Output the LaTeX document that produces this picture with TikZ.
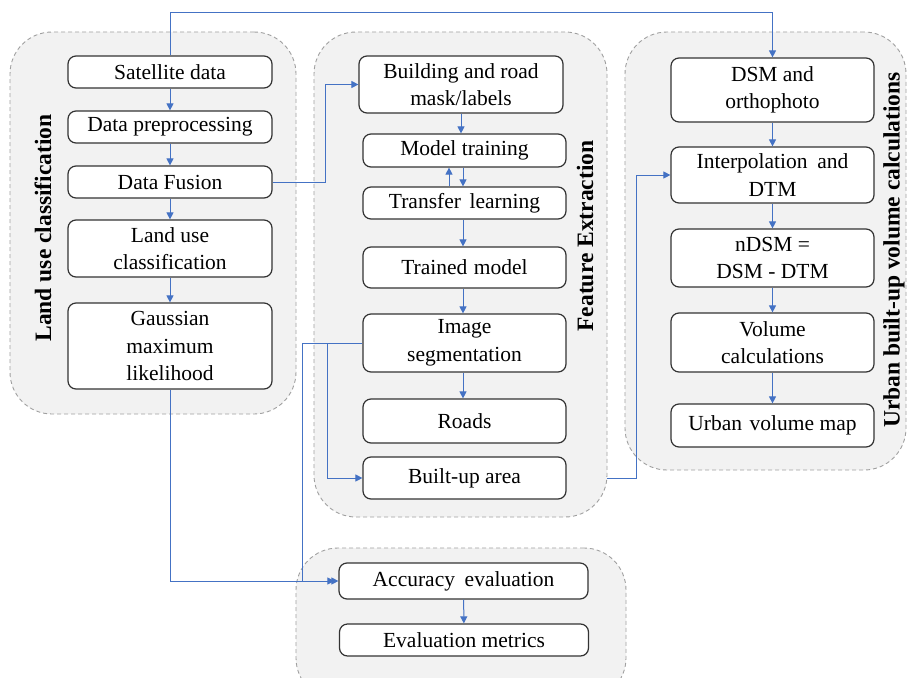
\documentclass[tikz,border=0pt]{standalone}
\usepackage{fontspec}
\setmainfont{Liberation Serif}
\usetikzlibrary{arrows.meta,calc}
\definecolor{flow}{HTML}{4472C4}
\definecolor{boxline}{HTML}{333333}
\definecolor{grpfill}{HTML}{F2F2F2}
\definecolor{grpline}{HTML}{A0A0A0}
\tikzset{
  grp/.style={draw=grpline, fill=grpfill, dash pattern=on 4pt off 3pt, line width=0.9pt,
    rounded corners=42pt, inner sep=0pt},
  stepbox/.style={draw=boxline, fill=white, line width=1.2pt, rounded corners=8pt,
    inner sep=0pt, align=center, font=\fontsize{21.5}{27.5}\selectfont},
  grptitle/.style={rotate=90, font=\bfseries\fontsize{23.5}{28}\selectfont, inner sep=0pt},
  conn/.style={draw=flow, line width=1pt, -{Triangle[length=7pt,width=7pt]}},
}
\begin{document}
\begin{tikzpicture}[x=1pt,y=-1pt]
\useasboundingbox (0,0) rectangle (907,677);
\clip (0,0) rectangle (907,677);

% group panels
\node[grp, minimum width=286pt, minimum height=382pt] (g1) at (153,223) {};
\node[grp, minimum width=293pt, minimum height=485pt] (g2) at (460.5,274.5) {};
\node[grp, minimum width=281pt, minimum height=438pt] (g3) at (765.5,251) {};
\node[grp, minimum width=330pt, minimum height=152pt] (g4) at (461,624) {};

% group titles
\node[grptitle] (t1) at (43,228) {Land use classification};
\node[grptitle] (t2) at (585,236) {Feature Extraction};
\node[grptitle] (t3) at (894,250) {Urban built-up volume calculations};

% land use classification
\node[stepbox, minimum width=204pt, minimum height=32pt] (sat) at (170,72) {Satellite data};
\node[stepbox, minimum width=204pt, minimum height=32pt] (pre) at (170,127) {Data preprocessing};
\node[stepbox, minimum width=204pt, minimum height=32pt] (fus) at (170,182) {Data Fusion};
\node[stepbox, minimum width=204pt, minimum height=57pt] (luc) at (170,248.5) {Land use\\classification};
\node[stepbox, minimum width=204pt, minimum height=86pt] (gau) at (170,346) {Gaussian\\maximum\\likelihood};

% feature extraction
\node[stepbox, minimum width=204pt, minimum height=57pt] (bld) at (461,84.5) {Building and road\\mask/labels};
\node[stepbox, minimum width=203pt, minimum height=33pt] (mt) at (464.5,150.5) {Model training};
\node[stepbox, minimum width=203pt, minimum height=32pt] (tl) at (464.5,203) {Transfer\hspace{0.4em}learning};
\node[stepbox, minimum width=203pt, minimum height=41pt] (tm) at (464.5,267.5) {Trained\hspace{0.3em}model};
\node[stepbox, minimum width=203pt, minimum height=58pt] (seg) at (464.5,343) {Image\\segmentation};
\node[stepbox, minimum width=203pt, minimum height=44pt] (rd) at (464.5,421) {Roads};
\node[stepbox, minimum width=203pt, minimum height=42pt] (bu) at (464.5,478) {Built-up area};

% urban volume
\node[stepbox, minimum width=203pt, minimum height=64pt] (dsm) at (772.5,90) {DSM and\\orthophoto};
\node[stepbox, minimum width=203pt, minimum height=56pt] (itp) at (772.5,175) {Interpolation\hspace{0.45em}and\\DTM};
\node[stepbox, minimum width=203pt, minimum height=58pt] (nd) at (772.5,258) {nDSM =\\DSM - DTM};
\node[stepbox, minimum width=203pt, minimum height=59pt] (vol) at (772.5,342.5) {Volume\\calculations};
\node[stepbox, minimum width=203pt, minimum height=43pt] (uvm) at (772.5,425.5) {Urban\hspace{0.35em}volume map};

% evaluation
\node[stepbox, minimum width=249pt, minimum height=36pt] (acc) at (463.5,581) {Accuracy\hspace{0.45em}evaluation};
\node[stepbox, minimum width=249pt, minimum height=32pt] (em) at (464,640) {Evaluation metrics};

% routing points
\coordinate (top) at (0,13);
\coordinate (jf) at (325,0);
\coordinate (js) at (302,0);
\coordinate (jb) at (327,0);
\coordinate (jv) at (636,0);

% chains inside groups
\draw[conn] (sat) -- (pre);
\draw[conn] (pre) -- (fus);
\draw[conn] (fus) -- (luc);
\draw[conn] (luc) -- (gau);
\draw[conn] (bld.south) -- (bld.south |- mt.north);
\draw[conn] ([xshift=-1.5pt]mt.south) -- ([xshift=-1.5pt]tl.north);
\draw[conn] ([xshift=-15.5pt]tl.north) -- ([xshift=-15.5pt]mt.south);
\draw[conn] ([xshift=-1.5pt]tl.south) -- ([xshift=-1.5pt]tm.north);
\draw[conn] ([xshift=-1.5pt]tm.south) -- ([xshift=-1.5pt]seg.north);
\draw[conn] ([xshift=-1.5pt]seg.south) -- ([xshift=-1.5pt]rd.north);
\draw[conn] (dsm) -- (itp);
\draw[conn] (itp) -- (nd);
\draw[conn] (nd) -- (vol);
\draw[conn] (vol) -- (uvm);
\draw[conn] (acc) -- (em);

% links between groups
\draw[conn] (sat.north) -- (sat.north |- top) -| (dsm.north);
\draw[conn] (fus.east) -- (fus.east -| jf) |- (bld.west);
\draw[conn] (gau.south) |- (acc.west);
\draw[conn] (seg.west) -- (seg.west -| js) |- ([xshift=-4pt]acc.west);
\draw[conn] (seg.west -| jb) |- (bu.west);
\draw[conn] (g2.east |- bu.east) -- (bu.east -| jv) |- (itp.west);
\end{tikzpicture}
\end{document}
